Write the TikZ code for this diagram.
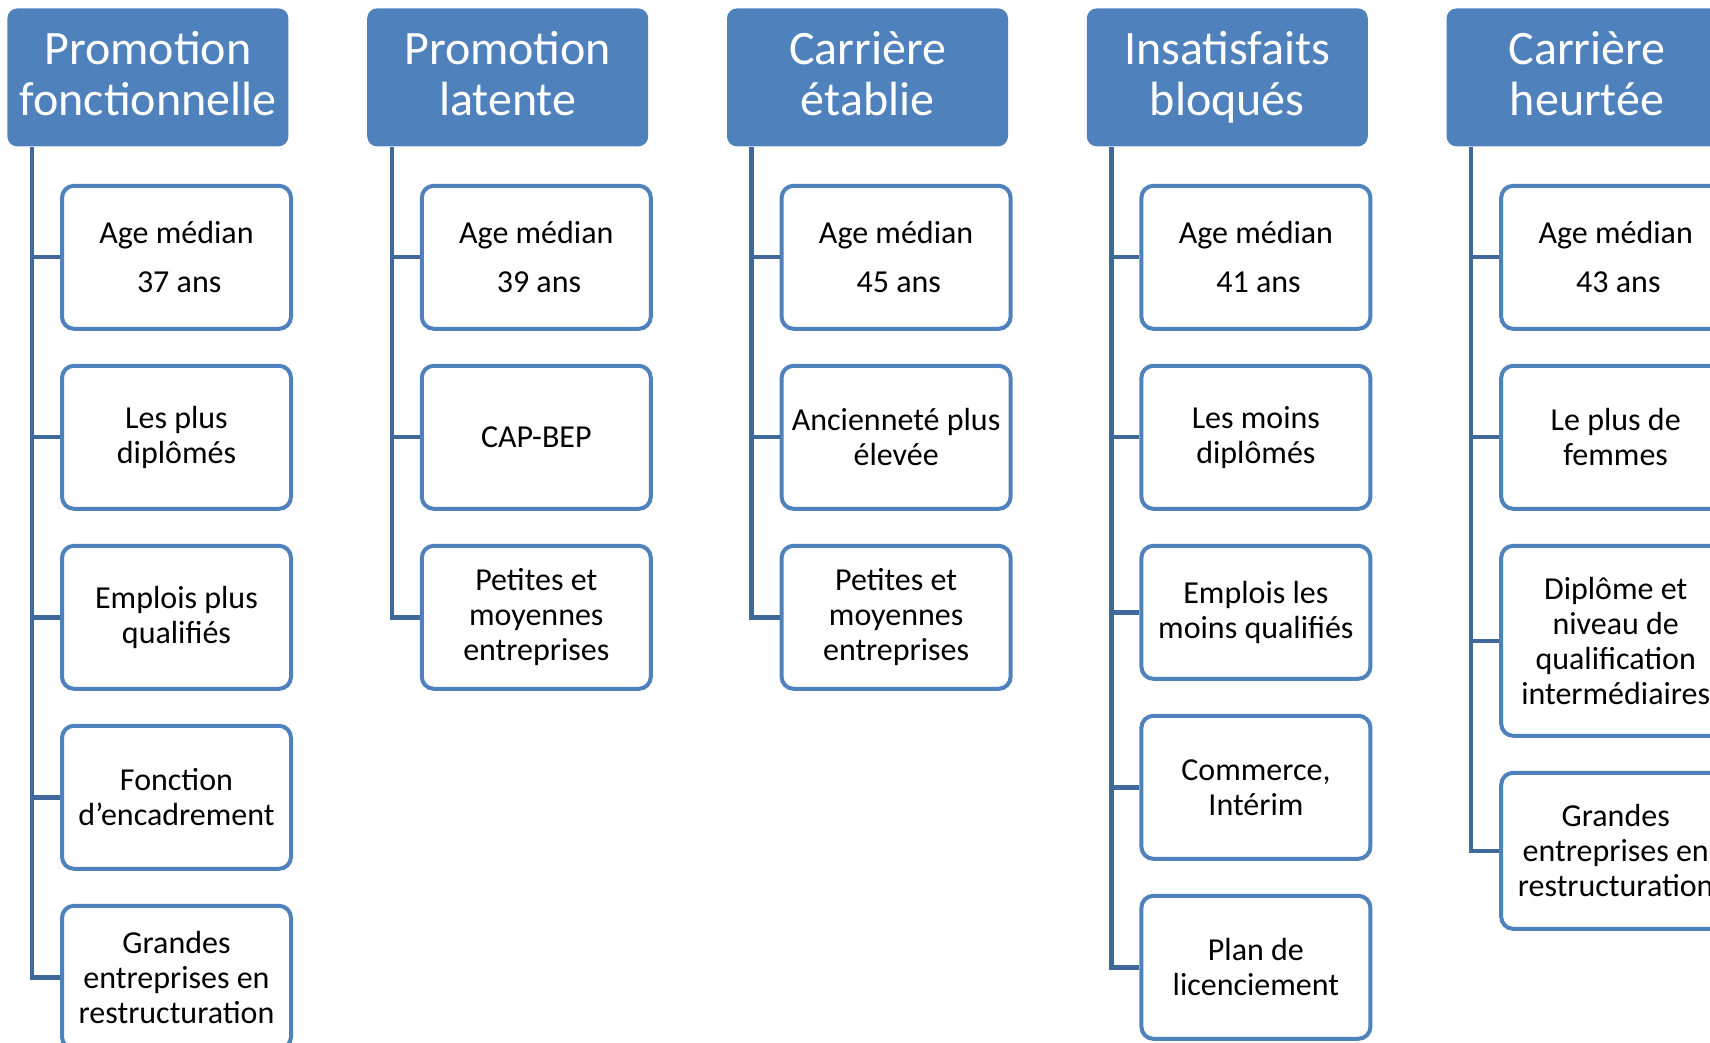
\documentclass[tikz,border=0pt]{standalone}
\usepackage{fontspec}
\setmainfont{Carlito}
\usetikzlibrary{positioning}
\definecolor{headblue}{HTML}{4F81BD}
\definecolor{linkblue}{HTML}{41689B}
\tikzstyle{category}=[
	rectangle,
	rounded corners=5pt,
	fill=headblue,
	text=white,
	align=center,
	inner sep=2pt,
	text depth=3.5pt,
	minimum width=140.5pt,
	minimum height=69pt,
	font=\fontsize{24}{25.5}\selectfont
]
\tikzstyle{trait}=[
	rectangle,
	rounded corners=6pt,
	draw=headblue,
	line width=2pt,
	fill=white,
	align=center,
	inner sep=2pt,
	minimum width=114.5pt,
	minimum height=71.5pt,
	font=\fontsize{16}{17.5}\selectfont,
	node distance=16.5pt
]
\tikzstyle{branch}=[
	draw=linkblue,
	line width=2.2pt,
	to path={(\tikztostart.west) -| (\tikztotarget)}
]

\begin{document}
\begin{tikzpicture}
\useasboundingbox (0,0) rectangle (855pt,-521.5pt);
\clip (0,0) rectangle (855pt,-521.5pt);
% column heads
\node [category, anchor=north west] (PromoFonct) at (3.5pt,-4pt) {Promotion\\fonctionnelle};
\node [category] (PromoLat) [right=39pt of PromoFonct] {Promotion\\latente};
\node [category] (CarEtab) [right=39pt of PromoLat] {Carrière\\établie};
\node [category] (Insatisf) [right=39pt of CarEtab] {Insatisfaits\\bloqués};
\node [category] (CarHeurt) [right=39pt of Insatisf] {Carrière\\heurtée};
% trunk of each column
\coordinate (PromoFonctRoot) at ([xshift=12.5pt]PromoFonct.south west);
\coordinate (PromoLatRoot) at ([xshift=12.5pt]PromoLat.south west);
\coordinate (CarEtabRoot) at ([xshift=12.5pt]CarEtab.south west);
\coordinate (InsatisfRoot) at ([xshift=12.5pt]Insatisf.south west);
\coordinate (CarHeurtRoot) at ([xshift=12.5pt]CarHeurt.south west);

% Promotion fonctionnelle
\node [trait] (PromoFonctAge)[below right=18.5pt and 26.5pt of PromoFonct.south west] {Age médian\\[7pt]\,37 ans}
	edge [branch] (PromoFonctRoot);
\node [trait] (PromoFonctDipl)[below=of PromoFonctAge] {Les plus\\diplômés}
	edge [branch] (PromoFonctRoot);
\node [trait] (PromoFonctEmpl)[below=of PromoFonctDipl] {Emplois plus\\qualifiés}
	edge [branch] (PromoFonctRoot);
\node [trait] (PromoFonctEnc)[below=of PromoFonctEmpl] {Fonction\\d’encadrement}
	edge [branch] (PromoFonctRoot);
\node [trait] (PromoFonctEntr)[below=of PromoFonctEnc] {Grandes\\entreprises en\\restructuration}
	edge [branch] (PromoFonctRoot);

% Promotion latente
\node [trait] (PromoLatAge)[below right=18.5pt and 26.5pt of PromoLat.south west] {Age médian\\[7pt]\,39 ans}
	edge [branch] (PromoLatRoot);
\node [trait] (PromoLatDipl)[below=of PromoLatAge] {CAP-BEP}
	edge [branch] (PromoLatRoot);
\node [trait] (PromoLatEntr)[below=of PromoLatDipl] {Petites et\\moyennes\\entreprises}
	edge [branch] (PromoLatRoot);

% Carriere etablie
\node [trait] (CarEtabAge)[below right=18.5pt and 26.5pt of CarEtab.south west] {Age médian\\[7pt]\,45 ans}
	edge [branch] (CarEtabRoot);
\node [trait] (CarEtabAnc)[below=of CarEtabAge] {Ancienneté plus\\élevée}
	edge [branch] (CarEtabRoot);
\node [trait] (CarEtabEntr)[below=of CarEtabAnc] {Petites et\\moyennes\\entreprises}
	edge [branch] (CarEtabRoot);

% Insatisfaits bloques
\node [trait] (InsatisfAge)[below right=18.5pt and 26.5pt of Insatisf.south west] {Age médian\\[7pt]\,41 ans}
	edge [branch] (InsatisfRoot);
\node [trait] (InsatisfDipl)[below=of InsatisfAge] {Les moins\\diplômés}
	edge [branch] (InsatisfRoot);
\node [trait, minimum height=66.5pt] (InsatisfEmpl)[below=of InsatisfDipl] {Emplois les\\moins qualifiés}
	edge [branch] (InsatisfRoot);
\node [trait] (InsatisfSect)[below=of InsatisfEmpl] {Commerce,\\Intérim}
	edge [branch] (InsatisfRoot);
\node [trait] (InsatisfPlan)[below=of InsatisfSect] {Plan de\\licenciement}
	edge [branch] (InsatisfRoot);

% Carriere heurtee
\node [trait] (CarHeurtAge)[below right=18.5pt and 26.5pt of CarHeurt.south west] {Age médian\\[7pt]\,43 ans}
	edge [branch] (CarHeurtRoot);
\node [trait] (CarHeurtFem)[below=of CarHeurtAge] {Le plus de\\femmes}
	edge [branch] (CarHeurtRoot);
\node [trait, minimum height=95pt] (CarHeurtDipl)[below=of CarHeurtFem] {Diplôme et\\niveau de\\qualification\\intermédiaires}
	edge [branch] (CarHeurtRoot);
\node [trait, minimum height=78pt] (CarHeurtEntr)[below=of CarHeurtDipl] {Grandes\\entreprises en\\restructuration}
	edge [branch] (CarHeurtRoot);
\end{tikzpicture}
\end{document}
